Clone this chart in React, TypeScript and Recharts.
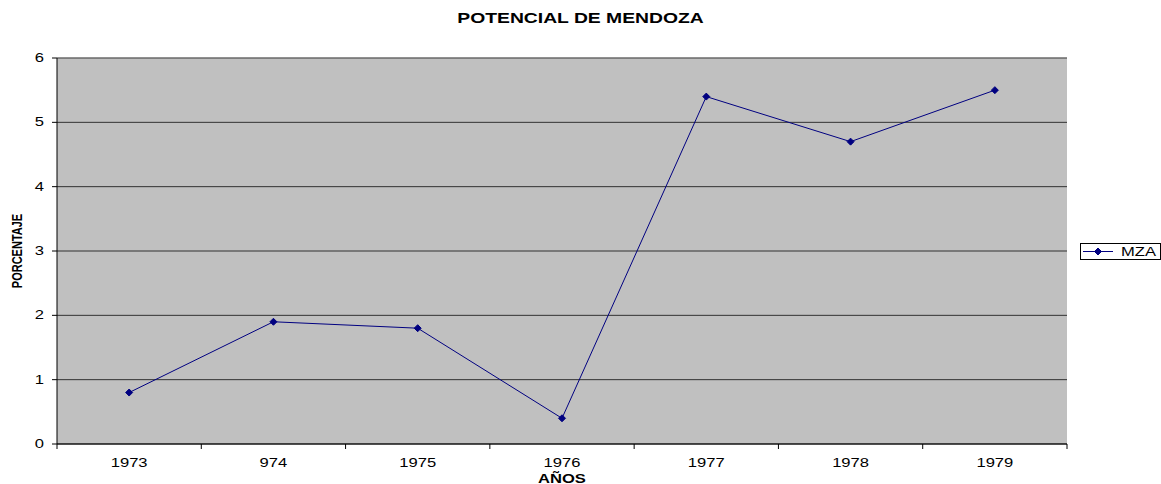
import { LineChart, Line, XAxis, YAxis, CartesianGrid, ReferenceLine } from 'recharts';

const years = ['1973', '974', '1975', '1976', '1977', '1978', '1979'];
const mza = [0.8, 1.9, 1.8, 0.4, 5.4, 4.7, 5.5];
const yTicks = [0, 1, 2, 3, 4, 5, 6];

const W = 1161;
const H = 484;
const PLOT_LEFT = 57;
const PLOT_RIGHT = 94;
const PLOT_TOP = 58;
const X_AXIS_H = 40;
const BAND = (W - PLOT_LEFT - PLOT_RIGHT) / years.length;
const FONT = '"Liberation Sans", Arial, sans-serif';
const NAVY = '#000080';
const STRETCH = 1.38;

const data = years.map((year, i) => ({ year, mza: mza[i] }));

// the reference is horizontally stretched, so texts are widened too
function WideText(props: {
  x: number;
  y: number;
  anchor: 'start' | 'middle' | 'end';
  size: number;
  bold?: boolean;
  children: any;
}) {
  const { x, y, anchor, size, bold, children } = props;
  return (
    <text
      transform={`translate(${x},${y}) scale(${STRETCH},1)`}
      x={0}
      y={0}
      textAnchor={anchor}
      fontSize={size}
      fontWeight={bold ? 'bold' : 'normal'}
      fontFamily={FONT}
      fill="#000"
    >
      {children}
    </text>
  );
}

function Diamond(props: { cx?: number; cy?: number }) {
  const { cx = 0, cy = 0 } = props;
  const r = 3.5;
  return (
    <path
      d={`M${cx},${cy - r} L${cx + r},${cy} L${cx},${cy + r} L${cx - r},${cy} Z`}
      fill={NAVY}
      stroke={NAVY}
    />
  );
}

function XTick(props: { x?: number; y?: number; index?: number; payload?: { value: string } }) {
  const { x = 0, y = 0, index = 0, payload } = props;
  const left = x - BAND / 2;
  return (
    <g>
      <line x1={left} y1={PLOT_TOP + 386} x2={left} y2={PLOT_TOP + 391} stroke="#000" />
      {index === years.length - 1 && (
        <line x1={x + BAND / 2} y1={PLOT_TOP + 386} x2={x + BAND / 2} y2={PLOT_TOP + 391} stroke="#000" />
      )}
      <WideText x={x} y={y + 15} anchor="middle" size={12}>
        {payload?.value}
      </WideText>
    </g>
  );
}

function YTick(props: { x?: number; y?: number; payload?: { value: number } }) {
  const { x = 0, y = 0, payload } = props;
  return (
    <WideText x={x - 6} y={y + 4} anchor="end" size={12}>
      {payload?.value}
    </WideText>
  );
}

export default function App() {
  return (
    <div style={{ position: 'absolute', left: 0, top: 0, width: W, height: H, background: '#fff' }}>
      <LineChart
        width={W}
        height={H}
        data={data}
        margin={{ top: PLOT_TOP, right: PLOT_RIGHT, bottom: 0, left: 0 }}
      >
        <CartesianGrid
          vertical={false}
          stroke="#000"
          strokeOpacity={0.75}
          fill="#C0C0C0"
          fillOpacity={1}
        />
        <XAxis
          dataKey="year"
          height={X_AXIS_H}
          stroke="#000"
          tickLine={false}
          tick={<XTick />}
          interval={0}
          padding={{ left: BAND / 2, right: BAND / 2 }}
          label={{
            value: 'AÑOS',
            content: (p: any) => (
              <WideText x={p.viewBox.x + p.viewBox.width / 2} y={p.viewBox.y + 39} anchor="middle" size={12} bold>
                AÑOS
              </WideText>
            ),
          }}
        />
        <YAxis
          width={PLOT_LEFT}
          domain={[0, 6]}
          ticks={yTicks}
          interval={0}
          stroke="#000"
          tickSize={5}
          tick={<YTick />}
          label={{
            value: 'PORCENTAJE',
            content: (p: any) => {
              const cx = 22;
              const cy = p.viewBox.y + p.viewBox.height / 2;
              return (
                <text
                  transform={`translate(${cx},${cy}) scale(${STRETCH},1) rotate(-90)`}
                  x={0}
                  y={0}
                  textAnchor="middle"
                  fontFamily={FONT}
                  fontWeight="bold"
                  fontSize={11}
                  fill="#000"
                >
                  PORCENTAJE
                </text>
              );
            },
          }}
        />
        <YAxis
          yAxisId="r"
          orientation="right"
          width={0}
          domain={[0, 6]}
          tick={false}
          tickLine={false}
          stroke="#808080"
          strokeWidth={2}
        />
        <ReferenceLine y={6} stroke="#808080" strokeWidth={1} />
        <Line
          type="linear"
          dataKey="mza"
          stroke={NAVY}
          strokeWidth={1}
          dot={<Diamond />}
          activeDot={false}
          isAnimationActive={false}
        />
      </LineChart>
      <svg width={W} height={40} style={{ position: 'absolute', left: 0, top: 0 }}>
        <WideText x={W / 2} y={23} anchor="middle" size={14} bold>
          POTENCIAL DE MENDOZA
        </WideText>
      </svg>
      <svg width={81} height={17} style={{ position: 'absolute', left: 1080, top: 243 }}>
        <rect x={0.5} y={0.5} width={80} height={16} fill="#fff" stroke="#000" />
        <line x1={3} y1={8.5} x2={33} y2={8.5} stroke={NAVY} />
        <Diamond cx={18} cy={8.5} />
        <WideText x={41} y={13} anchor="start" size={12}>
          MZA
        </WideText>
      </svg>
    </div>
  );
}
